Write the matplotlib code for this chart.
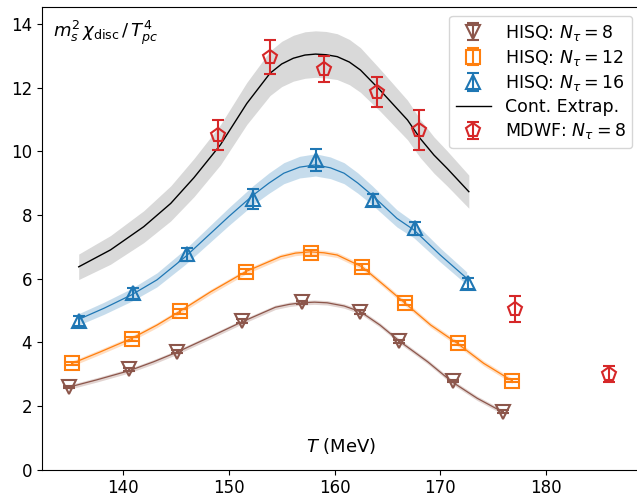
import numpy as np
import matplotlib
matplotlib.use("Agg")
import matplotlib.pyplot as plt

plt.rcParams['font.size'] = 12
plt.rcParams['mathtext.fontset'] = 'dejavusans'

# lattice data points (T in MeV, chi, error)
T8 = [134.85, 140.6, 145.1, 151.2, 156.9, 162.4, 166.1, 171.2, 175.9]
y8 = [2.59, 3.15, 3.71, 4.67, 5.26, 4.95, 4.03, 2.78, 1.82]
e8 = [0.04, 0.04, 0.04, 0.05, 0.05, 0.05, 0.05, 0.04, 0.04]

T12 = [135.2, 140.85, 145.4, 151.6, 157.8, 162.6, 166.7, 171.65, 176.8]
y12 = [3.34, 4.11, 4.97, 6.22, 6.81, 6.37, 5.24, 3.97, 2.79]
e12 = [0.05, 0.06, 0.07, 0.08, 0.09, 0.09, 0.08, 0.07, 0.05]

T16 = [135.8, 140.9, 146.0, 152.25, 158.2, 163.6, 167.6, 172.6]
y16 = [4.67, 5.54, 6.76, 8.5, 9.72, 8.47, 7.58, 5.85]
e16 = [0.15, 0.18, 0.2, 0.3, 0.34, 0.2, 0.2, 0.18]

Tmd = [149.0, 153.9, 159.0, 164.0, 168.0, 177.05, 186.0]
ymd = [10.5, 12.95, 12.58, 11.86, 10.67, 5.04, 3.0]
emd = [0.47, 0.54, 0.4, 0.46, 0.63, 0.4, 0.25]

# fit curves
Tc = [135.8, 138.8, 141.95, 144.5, 146.7, 149.2, 151.7, 153.9, 155.0, 156.1, 157.2, 158.2,
      159.2, 160.25, 161.4, 162.45, 164.3, 166.9, 168.1, 169.4, 170.65, 172.7]
yc = [6.37, 6.9, 7.63, 8.36, 9.17, 10.2, 11.5, 12.45, 12.74, 12.92, 13.02, 13.05,
      13.03, 12.97, 12.8, 12.55, 11.92, 10.98, 10.4, 9.88, 9.46, 8.73]
ec = [0.4, 0.45, 0.5, 0.55, 0.6, 0.63, 0.66, 0.7, 0.71, 0.72, 0.73, 0.73,
      0.73, 0.72, 0.71, 0.7, 0.66, 0.62, 0.6, 0.57, 0.55, 0.52]

Tb = [135.8, 138.2, 140.8, 143.2, 145.9, 147.95, 150.0, 152.3, 153.8, 155.2, 156.7, 158.2,
      159.6, 160.9, 162.2, 163.55, 165.9, 167.5, 170.0, 172.5]
yb = [4.72, 5.07, 5.49, 5.96, 6.69, 7.32, 7.95, 8.62, 9.0, 9.31, 9.5, 9.57,
      9.48, 9.31, 9.0, 8.62, 7.89, 7.53, 6.74, 6.01]
eb = [0.18, 0.19, 0.2, 0.22, 0.24, 0.26, 0.28, 0.3, 0.32, 0.33, 0.34, 0.35,
      0.34, 0.33, 0.32, 0.3, 0.27, 0.25, 0.22, 0.2]

To = [135.2, 137.85, 140.8, 143.2, 145.4, 148.3, 151.6, 154.9, 156.3, 157.7, 159.0, 160.25,
      162.6, 164.65, 166.7, 169.1, 171.6, 174.1, 176.8]
yo = [3.34, 3.7, 4.12, 4.54, 4.98, 5.59, 6.22, 6.69, 6.8, 6.84, 6.81, 6.74,
      6.37, 5.8, 5.22, 4.54, 3.97, 3.34, 2.79]

Tr = [134.85, 137.5, 140.6, 142.9, 145.1, 148.3, 151.1, 154.4, 155.7, 156.9, 158.1, 159.3,
      160.9, 162.45, 164.3, 166.2, 168.8, 171.1, 173.5, 175.85]
yr = [2.59, 2.82, 3.11, 3.39, 3.69, 4.18, 4.62, 5.1, 5.19, 5.24, 5.26, 5.24,
      5.14, 4.96, 4.54, 4.02, 3.39, 2.76, 2.24, 1.82]

fig = plt.figure(figsize=(6.37, 4.97), dpi=100)
ax = fig.add_axes([0.0655, 0.055, 0.941, 0.931])

brown, orange, blue, red = '#8c564b', '#ff7f0e', '#1f77b4', '#d62728'

# bands
ax.fill_between(Tc, np.array(yc) - ec, np.array(yc) + ec, color='#d9d9d9', lw=0)
ax.fill_between(Tb, np.array(yb) - eb, np.array(yb) + eb, color=blue, alpha=0.25, lw=0)
ax.fill_between(To, np.array(yo) - 0.08, np.array(yo) + 0.08, color=orange, alpha=0.25, lw=0)
ax.fill_between(Tr, np.array(yr) - 0.07, np.array(yr) + 0.07, color=brown, alpha=0.25, lw=0)

ax.plot(Tc, yc, color='k', lw=1.0, label='Cont. Extrap.')
ax.plot(Tb, yb, color=blue, lw=0.9)
ax.plot(To, yo, color=orange, lw=0.9)
ax.plot(Tr, yr, color=brown, lw=0.9)

kw = dict(ls='none', mfc='none', ms=10, mew=1.5, capsize=4, elinewidth=1.5, capthick=1.5)
ax.errorbar(T8, y8, yerr=e8, marker='v', color=brown, label=r'HISQ: $N_\tau=8$', **kw)
ax.errorbar(T12, y12, yerr=e12, marker='s', color=orange, label=r'HISQ: $N_\tau=12$', **kw)
ax.errorbar(T16, y16, yerr=e16, marker='^', color=blue, label=r'HISQ: $N_\tau=16$', **kw)
ax.errorbar(Tmd, ymd, yerr=emd, marker='p', color=red, label=r'MDWF: $N_\tau=8$', **kw)

h, l = ax.get_legend_handles_labels()
order = [1, 2, 3, 0, 4]
ax.legend([h[i] for i in order], [l[i] for i in order], loc='upper right',
          fontsize=12.5, handlelength=2.0, borderpad=0.4, labelspacing=0.3)

ax.set_xlim(132.3, 189.0)
ax.set_ylim(0, 14.53)
ax.set_xticks([140, 150, 160, 170, 180])
ax.set_yticks([0, 2, 4, 6, 8, 10, 12, 14])

ax.text(0.019, 0.936, r'$m_s^2\,\chi_\mathrm{disc}\,/\,T_{pc}^4$', transform=ax.transAxes,
        fontsize=13, va='baseline')
ax.text(0.5, 0.03, r'$T$ (MeV)', transform=ax.transAxes, ha='center', va='bottom', fontsize=13)

fig.savefig('out.png', dpi=100)
